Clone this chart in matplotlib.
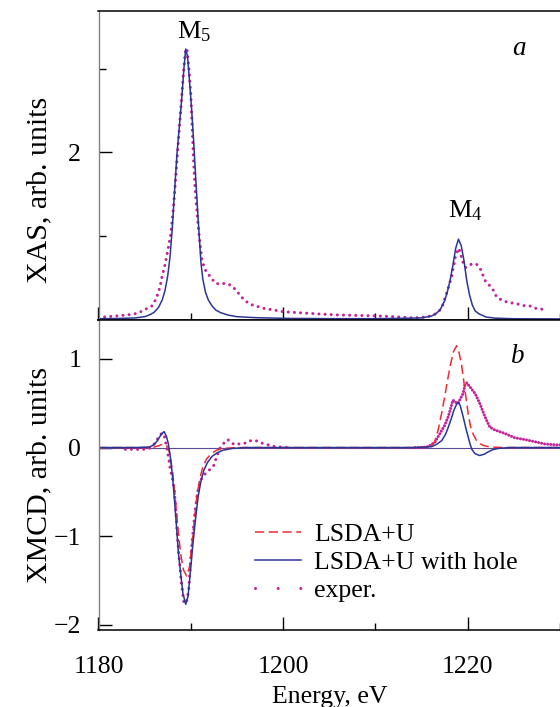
import numpy as np
import matplotlib
matplotlib.use("Agg")
import matplotlib.pyplot as plt
from matplotlib.lines import Line2D
from matplotlib.ticker import FixedLocator

plt.rcParams['font.family'] = ['Liberation Serif', 'DejaVu Serif']
plt.rcParams['mathtext.fontset'] = 'custom'
plt.rcParams['mathtext.rm'] = 'Liberation Serif'
plt.rcParams['mathtext.it'] = 'Liberation Serif:italic'

# --- XAS, calculation (LSDA+U with hole)
e_xas_calc = [1180, 1182, 1184, 1185, 1185.5, 1186, 1186.5, 1186.9, 1187.2, 1187.5,
              1187.75, 1188, 1188.25, 1188.5, 1188.75, 1189, 1189.25, 1189.45, 1189.65,
              1189.9, 1190.1, 1190.3, 1190.5, 1190.7, 1190.9, 1191.1, 1191.3, 1191.6,
              1191.9, 1192.3, 1192.7, 1193.2, 1194, 1195, 1197, 1200, 1205, 1210, 1213,
              1215, 1216, 1216.5, 1217, 1217.5, 1217.8, 1218.1, 1218.4, 1218.7, 1219,
              1219.3, 1219.6, 1219.9, 1220.2, 1220.5, 1220.8, 1221.2, 1221.5, 1222, 1223,
              1225, 1230]
xas_calc = [0.005, 0.008, 0.015, 0.03, 0.05, 0.08, 0.14, 0.23, 0.34, 0.52,
            0.75, 1.10, 1.55, 1.98, 2.30, 2.62, 3.00, 3.24, 3.15,
            2.80, 2.50, 2.15, 1.76, 1.38, 1.02, 0.68, 0.48, 0.32,
            0.23, 0.16, 0.11, 0.08, 0.05, 0.03, 0.018, 0.01, 0.006, 0.006, 0.01,
            0.015, 0.035, 0.06, 0.11, 0.22, 0.33, 0.47, 0.65, 0.85, 0.96,
            0.88, 0.70, 0.46, 0.29, 0.17, 0.10, 0.065, 0.05, 0.025, 0.012,
            0.005, 0.003]

# --- XAS, experiment
e_xas_exp = [1180.0, 1181.0, 1182.1, 1183.0, 1183.8, 1184.45, 1184.9, 1185.5, 1185.8,
             1186.0, 1186.25, 1186.47, 1186.65, 1186.9, 1187.2, 1187.5, 1187.8, 1188.0,
             1188.2, 1188.4, 1188.6, 1188.8, 1189.0, 1189.2, 1189.4, 1189.5, 1189.6,
             1189.8, 1190.0, 1190.15, 1190.3, 1190.45, 1190.6, 1190.8, 1191.0, 1191.2,
             1191.5, 1191.9, 1192.3, 1192.7, 1193.2, 1193.7, 1194.1, 1194.5, 1194.9,
             1195.3, 1195.8, 1196.4, 1197.0, 1197.9, 1199.0, 1200.0, 1201.3, 1202.8,
             1204.2, 1206.0, 1208.0, 1210.0, 1212.0, 1214.1, 1215.0, 1215.55, 1216.1,
             1216.6, 1217.0, 1217.35, 1217.5, 1217.8, 1218.07, 1218.25, 1218.36, 1218.54,
             1218.68, 1218.9, 1219.05, 1219.22, 1219.4, 1219.6, 1219.76, 1219.98, 1220.4,
             1220.95, 1221.3, 1221.68, 1221.9, 1222.57, 1222.94, 1223.1, 1223.65, 1224.4,
             1225.1, 1226.2, 1226.7, 1227.6, 1228.3]
xas_exp = [0.02, 0.03, 0.04, 0.05, 0.06, 0.08, 0.11, 0.14, 0.16,
           0.20, 0.24, 0.32, 0.38, 0.52, 0.65, 0.82, 1.00, 1.20,
           1.45, 1.75, 2.05, 2.35, 2.65, 2.95, 3.20, 3.25, 3.22,
           3.00, 2.70, 2.30, 1.90, 1.60, 1.38, 1.12, 0.90, 0.72,
           0.60, 0.54, 0.48, 0.43, 0.42, 0.43, 0.42, 0.39, 0.35,
           0.29, 0.23, 0.18, 0.16, 0.13, 0.11, 0.09, 0.08, 0.07,
           0.06, 0.05, 0.045, 0.04, 0.03, 0.015, 0.02, 0.03, 0.04,
           0.07, 0.11, 0.18, 0.24, 0.34, 0.44, 0.50, 0.58, 0.67,
           0.76, 0.82, 0.85, 0.78, 0.72, 0.64, 0.62, 0.63, 0.66,
           0.66, 0.62, 0.52, 0.46, 0.38, 0.32, 0.27, 0.23, 0.20,
           0.19, 0.16, 0.16, 0.12, 0.12]

# --- XMCD, LSDA+U
e_mcd_u = [1180, 1185, 1186, 1186.5, 1187.0, 1187.4, 1187.7, 1188.0, 1188.3, 1188.6,
           1188.9, 1189.2, 1189.55, 1189.85, 1190.1, 1190.4, 1190.7, 1191.0, 1191.3,
           1191.7, 1192.2, 1192.8, 1193.5, 1195, 1214, 1215.9, 1216.4, 1216.8, 1217.2,
           1217.5, 1217.8, 1218.1, 1218.45, 1218.8, 1219.05, 1219.33, 1219.7, 1220.05,
           1220.3, 1220.6, 1220.95, 1221.3, 1221.8, 1222.5, 1224, 1230]
mcd_u = [0, 0, 0.005, 0.02, 0.04, 0.02, -0.06, -0.25, -0.55, -0.9,
         -1.2, -1.38, -1.45, -1.35, -1.12, -0.8, -0.52, -0.34, -0.22,
         -0.13, -0.07, -0.03, -0.01, 0, 0, 0.005, 0.06, 0.2, 0.4,
         0.57, 0.75, 0.92, 1.08, 1.15, 1.08, 0.94, 0.65, 0.385,
         0.24, 0.15, 0.08, 0.045, 0.02, 0.005, 0, 0]

# --- XMCD, LSDA+U with hole
e_mcd_h = [1180, 1184, 1185.5, 1186, 1186.4, 1186.8, 1187.1, 1187.35, 1187.55, 1187.75,
           1188.0, 1188.2, 1188.4, 1188.65, 1188.9, 1189.15, 1189.45, 1189.7, 1189.97,
           1190.2, 1190.5, 1190.8, 1191.1, 1191.4, 1191.8, 1192.3, 1192.85, 1193.5,
           1194.5, 1196, 1214, 1215.5, 1216.1, 1216.7, 1217.2, 1217.6, 1217.9, 1218.2,
           1218.5, 1218.8, 1219.0, 1219.2, 1219.5, 1219.8, 1220.05, 1220.25, 1220.45,
           1220.8, 1221.3, 1221.8, 1222.2, 1222.7, 1223.3, 1224.5, 1230]
mcd_h = [0, 0, 0.005, 0.03, 0.08, 0.15, 0.18, 0.13, 0.05, -0.08,
         -0.3, -0.55, -0.82, -1.18, -1.42, -1.65, -1.77, -1.68, -1.39,
         -1.12, -0.82, -0.55, -0.38, -0.26, -0.17, -0.10, -0.06, -0.03,
         -0.01, 0, 0, 0.005, 0.01, 0.04, 0.08, 0.15, 0.23, 0.32,
         0.42, 0.49, 0.51, 0.47, 0.35, 0.22, 0.12, 0.04, -0.02,
         -0.07, -0.09, -0.075, -0.05, -0.025, -0.01, 0, 0]

# --- XMCD, experiment (no data between 1200.5 and 1214.3)
e_mcd_exp = [1182.9, 1183.5, 1184.2, 1184.9, 1185.5, 1185.9, 1186.3, 1186.6, 1186.9,
             1187.15, 1187.4, 1187.6, 1187.8, 1188.0, 1188.2, 1188.35, 1188.5, 1188.7,
             1188.95, 1189.24, 1189.5, 1189.65, 1189.8, 1189.97, 1190.15, 1190.43,
             1190.7, 1191.05, 1191.6, 1191.95, 1192.5, 1192.85, 1193.2, 1193.7, 1194.0,
             1194.46, 1194.8, 1195.4, 1195.9, 1196.3, 1197.0, 1197.7, 1198.4, 1199.15,
             1200.5]
mcd_exp = [-0.02, -0.02, -0.02, -0.02, -0.01, 0.02, 0.08, 0.13, 0.165,
           0.12, 0.0, -0.12, -0.26, -0.34, -0.47, -0.66, -0.92, -1.2,
           -1.5, -1.74, -1.76, -1.68, -1.58, -1.28, -1.05, -0.75,
           -0.52, -0.37, -0.29, -0.26, -0.20, -0.09, 0.0, 0.065, 0.09,
           0.05, 0.03, 0.045, 0.05, 0.075, 0.08, 0.05, 0.03, 0.01,
           0.0]
e_mcd_exp4 = [1214.3, 1215.0, 1215.7, 1216.45, 1217.0, 1217.5, 1217.9, 1218.2, 1218.4,
              1218.7, 1218.97, 1219.2, 1219.5, 1219.7, 1219.9, 1220.2, 1220.8, 1221.3,
              1221.86, 1222.4, 1222.9, 1224.0, 1225.1, 1226.2, 1227.3, 1228.35, 1229.6,
              1230]
mcd_exp4 = [0.0, 0.0, 0.01, 0.06, 0.16, 0.25, 0.35, 0.46, 0.535,
            0.51, 0.50, 0.55, 0.61, 0.705, 0.73, 0.69, 0.61, 0.50,
            0.35, 0.23, 0.20, 0.16, 0.11, 0.09, 0.065, 0.04, 0.03,
            0.03]

c_blue = '#2B3594'
c_red = '#EE2A35'
c_exp = '#C2249C'
fs = 18.5

W, H = 560, 707
fig = plt.figure(figsize=(W / 100, H / 100), dpi=100)
left, right = 98.5, 560
ax1 = fig.add_axes([left / W, 1 - 320 / H, (right - left) / W, (320 - 10.7) / H])
ax2 = fig.add_axes([left / W, 1 - 630 / H, (right - left) / W, (630 - 320) / H], sharex=ax1)

dots = dict(color=c_exp, lw=2.2, linestyle=(0, (0.01, 2.0)), dash_capstyle='round')

# top panel
ax1.plot(e_xas_exp, xas_exp, **dots)
ax1.plot(e_xas_calc, xas_calc, color=c_blue, lw=1.1)

# bottom panel
ax2.axhline(0, color='#5A4A9A', lw=0.8)
ax2.plot(e_mcd_exp, mcd_exp, **dots)
ax2.plot(e_mcd_exp4, mcd_exp4, color=c_exp, lw=2.2, linestyle=(0, (0.01, 1.0)),
         dash_capstyle='round')
ax2.plot(e_mcd_u, mcd_u, color=c_red, lw=1.1, linestyle=(0, (6, 3)))
ax2.plot(e_mcd_h, mcd_h, color=c_blue, lw=1.1)

ax1.set_xlim(1180, 1230)
ax1.set_ylim(-0.01, 3.70)
ax2.set_ylim(-2.06, 1.44)

ax2.xaxis.set_major_locator(FixedLocator([1180, 1200, 1220]))
ax2.xaxis.set_minor_locator(FixedLocator([1190, 1210, 1230]))
ax1.yaxis.set_major_locator(FixedLocator([2]))
ax1.yaxis.set_minor_locator(FixedLocator([1, 3]))
ax2.yaxis.set_major_locator(FixedLocator([-2, -1, 0, 1]))

for ax in (ax1, ax2):
    ax.spines['right'].set_visible(False)
    ax.spines['left'].set_color('0.5')
    ax.spines['left'].set_linewidth(1.0)
    for s in ('top', 'bottom'):
        ax.spines[s].set_linewidth(1.1)
    ax.tick_params(which='major', direction='in', length=9.4, width=1.0,
                   labelsize=fs, pad=12.5)
    ax.tick_params(which='minor', direction='in', length=4.8, width=1.0)
    ax.tick_params(axis='x', which='major', pad=18.7)
ax1.tick_params(axis='x', labelbottom=False)

ax1.set_ylabel('XAS, arb. units', fontsize=fs + 3)
ax2.set_ylabel('XMCD, arb. units', fontsize=fs + 3)
ax1.yaxis.set_label_coords(-0.1, 0.42)
ax2.yaxis.set_label_coords(-0.1, 0.50)
ax2.set_xlabel('Energy, eV', fontsize=fs, labelpad=5.5)

ax1.text(0.207, 0.911, 'M$_5$', transform=ax1.transAxes, ha='center', va='baseline', fontsize=fs + 0.5)
ax1.text(0.794, 0.332, 'M$_4$', transform=ax1.transAxes, ha='center', va='baseline', fontsize=fs + 0.5)
ax1.text(0.911, 0.857, 'a', transform=ax1.transAxes, ha='center', va='baseline',
         fontsize=fs + 1, fontstyle='italic')
ax2.text(0.909, 0.861, 'b', transform=ax2.transAxes, ha='center', va='baseline',
         fontsize=fs + 1, fontstyle='italic')

handles = [Line2D([], [], color=c_red, lw=1.1, linestyle=(0, (6, 3))),
           Line2D([], [], color=c_blue, lw=1.1),
           Line2D([], [], color=c_exp, lw=2.2, linestyle=(0, (0.01, 7.4)),
                  dash_capstyle='round')]
ax2.legend(handles, ['LSDA+U', 'LSDA+U with hole', 'exper.'], loc='upper left',
           bbox_to_anchor=(0.339, 0.346), frameon=False, fontsize=fs,
           handlelength=1.8, handletextpad=0.5, labelspacing=0.2,
           borderpad=0, borderaxespad=0)

fig.savefig('out.png', dpi=100)
